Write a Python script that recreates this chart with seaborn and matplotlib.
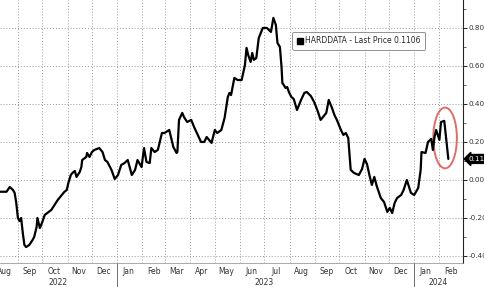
import matplotlib
matplotlib.use("Agg")
import matplotlib.pyplot as plt
import matplotlib.dates as mdates
from matplotlib.patches import Ellipse
from matplotlib.lines import Line2D
import seaborn as sns
import pandas as pd

dates = [
    "2022-08-10", "2022-08-18", "2022-08-22", "2022-08-26", "2022-08-28", "2022-08-30",
    "2022-09-01", "2022-09-03", "2022-09-05", "2022-09-07", "2022-09-09", "2022-09-11",
    "2022-09-15", "2022-09-19", "2022-09-21", "2022-09-24", "2022-09-25", "2022-09-28",
    "2022-10-01", "2022-10-04", "2022-10-07", "2022-10-12", "2022-10-16", "2022-10-20",
    "2022-10-25", "2022-10-28", "2022-10-31", "2022-11-02", "2022-11-05", "2022-11-07",
    "2022-11-10", "2022-11-12", "2022-11-16", "2022-11-18", "2022-11-19", "2022-11-24",
    "2022-11-25", "2022-11-28", "2022-12-01", "2022-12-04", "2022-12-10", "2022-12-14",
    "2022-12-17", "2022-12-20", "2022-12-25", "2022-12-29", "2023-01-02", "2023-01-06",
    "2023-01-10", "2023-01-14", "2023-01-19", "2023-01-23", "2023-01-26", "2023-01-31",
    "2023-02-03", "2023-02-06", "2023-02-10", "2023-02-12", "2023-02-16", "2023-02-20",
    "2023-02-25", "2023-02-28", "2023-03-06", "2023-03-11", "2023-03-15", "2023-03-16",
    "2023-03-18", "2023-03-22", "2023-03-24", "2023-03-28", "2023-04-02", "2023-04-06",
    "2023-04-09", "2023-04-14", "2023-04-18", "2023-04-21", "2023-04-26", "2023-04-27",
    "2023-05-01", "2023-05-04", "2023-05-09", "2023-05-13", "2023-05-17", "2023-05-19",
    "2023-05-21", "2023-05-25", "2023-05-29", "2023-06-03", "2023-06-07", "2023-06-09",
    "2023-06-11", "2023-06-14", "2023-06-16", "2023-06-18", "2023-06-21", "2023-06-24",
    "2023-06-29", "2023-07-04", "2023-07-09", "2023-07-12", "2023-07-15", "2023-07-17",
    "2023-07-20", "2023-07-22", "2023-07-23", "2023-07-27", "2023-07-29", "2023-07-31",
    "2023-08-03", "2023-08-06", "2023-08-10", "2023-08-15", "2023-08-19", "2023-08-22",
    "2023-08-27", "2023-08-31", "2023-09-04", "2023-09-08", "2023-09-10", "2023-09-15",
    "2023-09-18", "2023-09-22", "2023-09-25", "2023-09-28", "2023-10-03", "2023-10-06",
    "2023-10-09", "2023-10-12", "2023-10-15", "2023-10-19", "2023-10-25", "2023-10-29",
    "2023-11-01", "2023-11-04", "2023-11-07", "2023-11-10", "2023-11-13", "2023-11-16",
    "2023-11-21", "2023-11-25", "2023-11-29", "2023-12-02", "2023-12-05", "2023-12-08",
    "2023-12-11", "2023-12-16", "2023-12-19", "2023-12-23", "2023-12-28", "2024-01-01",
    "2024-01-06", "2024-01-09", "2024-01-10", "2024-01-15", "2024-01-18", "2024-01-22",
    "2024-01-24", "2024-01-26", "2024-01-28", "2024-02-01", "2024-02-03", "2024-02-07",
    "2024-02-12",
]
values = [
    -0.062, -0.062, -0.037, -0.053, -0.068, -0.121,
    -0.200, -0.216, -0.200, -0.279, -0.342, -0.353,
    -0.342, -0.316, -0.300, -0.247, -0.200, -0.253,
    -0.221, -0.184, -0.174, -0.158, -0.132, -0.105,
    -0.079, -0.063, -0.053, -0.016, 0.026, 0.037,
    0.047, 0.016, 0.042, 0.068, 0.105, 0.121,
    0.142, 0.121, 0.147, 0.158, 0.168, 0.147,
    0.105, 0.095, 0.053, 0.005, 0.026, 0.079,
    0.089, 0.105, 0.026, 0.053, 0.105, 0.068,
    0.168, 0.095, 0.089, 0.168, 0.147, 0.158,
    0.247, 0.247, 0.263, 0.174, 0.142, 0.147,
    0.316, 0.353, 0.332, 0.305, 0.316, 0.274,
    0.247, 0.200, 0.200, 0.226, 0.200, 0.195,
    0.263, 0.247, 0.263, 0.326, 0.437, 0.458,
    0.447, 0.537, 0.526, 0.526, 0.605, 0.695,
    0.658, 0.621, 0.668, 0.632, 0.642, 0.747,
    0.800, 0.800, 0.779, 0.853, 0.816, 0.721,
    0.700, 0.595, 0.511, 0.484, 0.489, 0.463,
    0.437, 0.426, 0.368, 0.421, 0.458, 0.463,
    0.442, 0.411, 0.368, 0.316, 0.326, 0.353,
    0.421, 0.379, 0.342, 0.316, 0.263, 0.237,
    0.247, 0.221, 0.053, 0.037, 0.026, 0.058,
    0.111, 0.084, 0.026, -0.026, 0.016, -0.032,
    -0.095, -0.116, -0.168, -0.147, -0.174, -0.121,
    -0.095, -0.079, -0.053, 0.000, -0.068, -0.079,
    -0.042, 0.053, 0.147, 0.142, 0.200, 0.216,
    0.158, 0.226, 0.263, 0.211, 0.305, 0.311,
    0.1106,
]
series_name = "HARDDATA"
last_price = 0.1106
y_ticks = [-0.4, -0.2, 0.0, 0.2, 0.4, 0.6, 0.8]
y_tick_labels = ["-0.4000", "-0.2000", "0.0000", "0.2000", "0.4000", "0.6000", "0.8000"]
years = ["2022", "2023", "2024"]
year_centers = ["2022-10-20", "2023-07-01", "2024-01-31"]
year_starts = ["2023-01-01", "2024-01-01"]

df = pd.DataFrame({"date": pd.to_datetime(dates), "value": values})

sns.set_style("white")
plt.rcParams["font.family"] = ["DejaVu Sans"]

fig = plt.figure(figsize=(4.85, 2.87), dpi=100)
ax = fig.add_axes([0.0, 0.0836, 0.9546, 0.9164])

sns.lineplot(data=df, x="date", y="value", ax=ax, color="black", linewidth=1.6)

ax.set_xlim(mdates.date2num(pd.Timestamp("2022-08-10")), mdates.date2num(pd.Timestamp("2024-03-01")))
ax.set_ylim(-0.437, 0.947)

# y axis on right
ax.yaxis.tick_right()
ax.set_yticks(y_ticks)
ax.set_yticklabels(y_tick_labels)
ax.set_yticks([-0.3, -0.1, 0.1, 0.3, 0.5, 0.7, 0.9], minor=True)
ax.tick_params(axis="y", which="major", direction="out", length=3, width=0.6, labelsize=5.2,
               pad=1, colors="black", labelcolor="#333333")
ax.tick_params(axis="y", which="minor", direction="out", length=2, width=0.5)

# x axis months
ax.xaxis.set_major_locator(mdates.MonthLocator())
ax.xaxis.set_major_formatter(plt.NullFormatter())
ax.xaxis.set_minor_locator(mdates.MonthLocator(bymonthday=15))
ax.xaxis.set_minor_formatter(mdates.DateFormatter("%b"))
ax.tick_params(axis="x", which="major", direction="in", length=3, width=0.5, colors="#555555")
ax.tick_params(axis="x", which="minor", length=0, labelsize=5.5, pad=3, labelcolor="#333333")

ax.set_xlabel("")
ax.set_ylabel("")

for s in ["left", "top"]:
    ax.spines[s].set_visible(False)
ax.spines["right"].set_linewidth(0.8)
ax.spines["bottom"].set_linewidth(0.5)
ax.spines["bottom"].set_color("#888888")

ax.grid(True, which="major", axis="both", linestyle=(0, (1, 2)), color="#9a9a9a", linewidth=0.7)

# year labels
for yr, c in zip(years, year_centers):
    ax.text(mdates.date2num(pd.Timestamp(c)), -0.075, yr, transform=ax.get_xaxis_transform(),
            ha="center", va="center", fontsize=5.5, color="#333333", clip_on=False)
for ys in year_starts:
    ax.plot([mdates.date2num(pd.Timestamp(ys))] * 2, [0.0, -0.1], transform=ax.get_xaxis_transform(),
            color="#555555", lw=0.6, clip_on=False)

# legend
handle = Line2D([], [], marker="s", linestyle="none", markersize=5, markerfacecolor="black",
                markeredgecolor="black")
leg = ax.legend([handle], [f"{series_name} - Last Price {last_price}"], loc="center",
                bbox_to_anchor=(0.775, 0.845), fontsize=5.5, frameon=True, fancybox=True,
                handlelength=0.8, handletextpad=0.3, borderpad=0.6, markerscale=1.0)
leg.get_frame().set_edgecolor("#777777")
leg.get_frame().set_linewidth(0.7)

# last price tag
ax.text(1.013, last_price, f"{last_price:.4f}", transform=ax.get_yaxis_transform(),
        fontsize=5.2, color="white", va="center", ha="left", clip_on=False,
        bbox=dict(boxstyle="larrow,pad=0.2", fc="black", ec="black"))

# red ellipse highlight
e_center = (mdates.date2num(pd.Timestamp("2024-02-08")), 0.221)
ell = Ellipse(e_center, width=29, height=0.32, fill=False, edgecolor="#d9534f", lw=1.4, alpha=0.85)
ax.add_patch(ell)

fig.savefig("out.png", dpi=100)
